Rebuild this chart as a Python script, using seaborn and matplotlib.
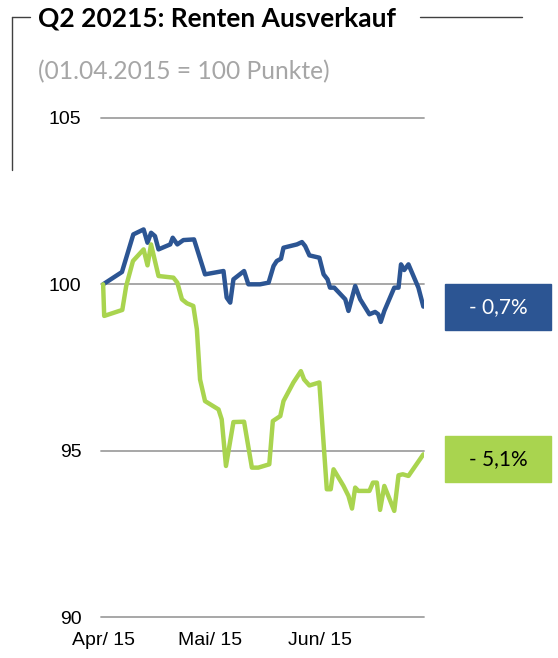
import pandas as pd
import matplotlib
matplotlib.use("Agg")
import matplotlib.pyplot as plt
import seaborn as sns

# Tage seit 01.04.2015 und Indexwerte (01.04.2015 = 100)
tage_blau = [0, 5.3, 8.5, 11.4, 12.5, 13.5, 14.6, 15.6, 18.9, 19.6, 20.9, 22.6, 25.6,
             28.7, 33.9, 34.8, 35.8, 36.7, 39.7, 40.9, 44.2, 46.6, 48.0, 48.9, 50.1,
             50.8, 54.6, 56.0, 56.9, 58.1, 60.9, 62.1, 63.2, 63.9, 65.1, 68.2, 69.1,
             71.0, 72.4, 75.0, 76.6, 77.5, 78.2, 79.2, 82.0, 83.2, 83.9, 84.8, 86.0,
             88.8, 90.2]
werte_blau = [100.0, 100.37, 101.5, 101.65, 101.25, 101.55, 101.45, 101.05, 101.2, 101.4,
              101.2, 101.33, 101.35, 100.3, 100.4, 99.6, 99.45, 100.15, 100.4, 100.0,
              100.0, 100.05, 100.55, 100.7, 100.77, 101.1, 101.2, 101.27, 101.15, 100.87,
              100.8, 100.3, 100.15, 99.9, 99.9, 99.55, 99.2, 99.95, 99.55, 99.1, 99.17,
              99.1, 98.87, 99.2, 99.9, 99.9, 100.6, 100.43, 100.6, 99.9, 99.33]

tage_gruen = [0, 0.3, 5.4, 6.5, 8.4, 11.4, 12.5, 13.5, 15.6, 19.8, 20.9, 22.2, 23.6, 25.4,
              26.4, 27.3, 28.7, 32.5, 33.4, 34.6, 36.7, 39.7, 41.9, 43.7, 46.8, 47.8,
              49.9, 50.8, 53.6, 55.7, 56.6, 58.1, 60.9, 63.0, 64.1, 64.9, 67.7, 69.1,
              70.1, 71.0, 71.9, 75.0, 76.0, 77.1, 78.0, 79.2, 82.0, 83.2, 84.4, 86.0, 90.2]
werte_gruen = [100.0, 99.05, 99.23, 99.95, 100.7, 101.05, 100.57, 101.2, 100.25, 100.2,
               100.05, 99.55, 99.43, 99.35, 98.65, 97.14, 96.49, 96.24, 95.94, 94.54,
               95.86, 95.87, 94.49, 94.49, 94.59, 95.89, 96.04, 96.49, 97.05, 97.39,
               97.14, 96.96, 97.05, 93.84, 93.84, 94.44, 93.94, 93.64, 93.26, 93.89,
               93.79, 93.79, 94.04, 94.04, 93.22, 93.94, 93.19, 94.26, 94.29, 94.24, 94.89]

monats_tage = [0, 30, 61]
monats_labels = ["Apr/ 15", "Mai/ 15", "Jun/ 15"]
y_ticks = [90, 95, 100, 105]
labels_ende = ["- 0,7%", "- 5,1%"]

blau = "#2c5593"
gruen = "#a9d44f"

df = pd.concat([
    pd.DataFrame({"tag": tage_blau, "wert": werte_blau, "serie": "blau"}),
    pd.DataFrame({"tag": tage_gruen, "wert": werte_gruen, "serie": "gruen"}),
])

sns.set_style("white")
plt.rcParams["font.family"] = ["Liberation Sans", "DejaVu Sans"]

fig = plt.figure(figsize=(5.58, 6.58), dpi=100)
ax = fig.add_axes([0.181, 0.0623, 0.579, 0.7584])

sns.lineplot(data=df, x="tag", y="wert", hue="serie", palette=[blau, gruen],
             linewidth=3.2, legend=False, sort=False, ax=ax, zorder=3)

ax.set_xlim(-0.6, 90.4)
ax.set_ylim(90, 105)
ax.set_yticks(y_ticks)
ax.set_xticks(monats_tage)
ax.set_xticklabels(monats_labels)
ax.set_xlabel("")
ax.set_ylabel("")
ax.tick_params(axis="y", length=0, pad=14, labelsize=14, colors="black")
ax.tick_params(axis="x", length=0, pad=11, labelsize=14, colors="black")
ax.yaxis.grid(True, color="#a0a0a0", linewidth=1.3)
for gl in ax.get_ygridlines():
    gl.set_clip_on(False)
for s in ax.spines.values():
    s.set_visible(False)

# Rahmen oben links
fig.add_artist(plt.Line2D([12 / 558, 30 / 558], [1 - 17 / 658, 1 - 17 / 658],
                          color="#404040", lw=1))
fig.add_artist(plt.Line2D([420 / 558, 522 / 558], [1 - 17 / 658, 1 - 17 / 658],
                          color="#404040", lw=1))
fig.add_artist(plt.Line2D([12 / 558, 12 / 558], [1 - 17 / 658, 1 - 170 / 658],
                          color="#404040", lw=1))

fig.text(38 / 558, 1 - 19 / 658, "Q2 20215: Renten Ausverkauf", fontsize=19,
         fontweight="bold", color="black", family="Lato", va="center", ha="left")
fig.text(38 / 558, 1 - 72 / 658, "(01.04.2015 = 100 Punkte)", fontsize=17.7,
         color="#a6a6a6", family="Lato", va="center", ha="left")

# Endwert-Kästen
for txt, fc, tc, yc in [(labels_ende[0], blau, "white", 307), (labels_ende[1], gruen, "black", 459)]:
    fig.patches.append(plt.Rectangle((445 / 558, 1 - (yc + 23) / 658), 106 / 558, 46 / 658,
                                     transform=fig.transFigure, color=fc))
    fig.text(498 / 558, 1 - yc / 658, txt, fontsize=15, color=tc, family="Lato",
             va="center", ha="center")

fig.savefig("out.png", dpi=100)
